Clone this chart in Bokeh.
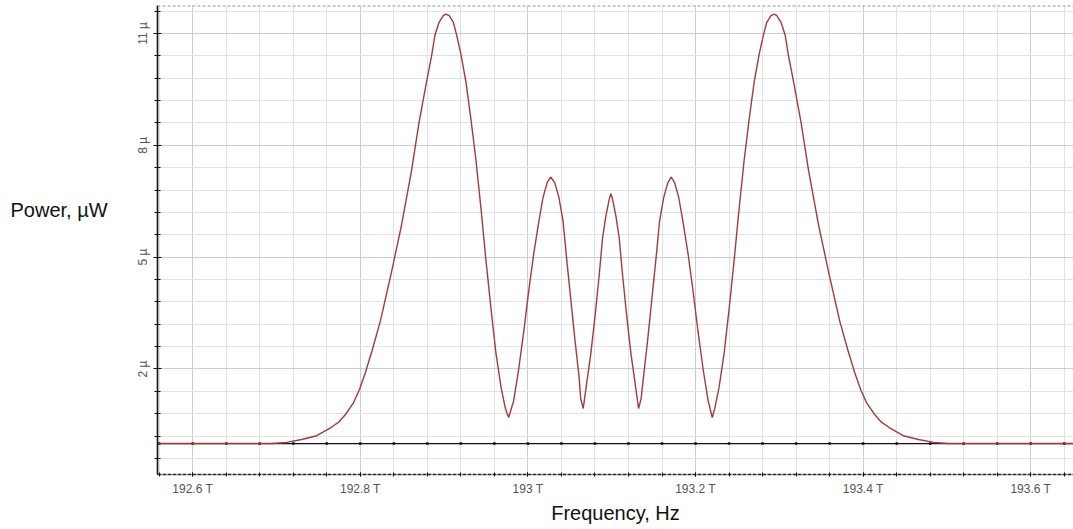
import numpy as np
from bokeh.plotting import figure
from bokeh.layouts import row
from bokeh.models import FixedTicker, Range1d, Span
from bokeh.core.properties import value
from bokeh.embed import file_html
from bokeh.resources import INLINE

# ---- data (frequency in THz, power in µW) ----
freq_thz = [
    192.558, 192.694, 192.712, 192.730, 192.748, 192.765, 192.775, 192.783, 192.792,
    192.799, 192.806, 192.814, 192.824, 192.837, 192.849, 192.861, 192.870, 192.879,
    192.885, 192.889, 192.894, 192.899, 192.902, 192.906, 192.911, 192.915, 192.920,
    192.926, 192.932, 192.938, 192.944, 192.950, 192.956, 192.962, 192.968, 192.973,
    192.977,
    192.983, 192.989, 192.995, 193.001, 193.007, 193.013, 193.018, 193.023, 193.027,
    193.032, 193.037, 193.042, 193.046, 193.051, 193.056, 193.061, 193.063, 193.066,
    193.070, 193.075, 193.080, 193.085, 193.089, 193.093, 193.097, 193.099, 193.101,
    193.105, 193.109, 193.113, 193.118, 193.123, 193.128, 193.132,
    193.135, 193.138, 193.143, 193.148, 193.153, 193.157, 193.162, 193.167, 193.171,
    193.175, 193.180, 193.185, 193.191, 193.197, 193.203, 193.209, 193.215, 193.220,
    193.223, 193.228, 193.234, 193.240, 193.246, 193.252, 193.258, 193.264, 193.270,
    193.276, 193.281, 193.285, 193.290, 193.294, 193.297, 193.302, 193.307, 193.311,
    193.317, 193.326, 193.335, 193.347, 193.359, 193.372, 193.382, 193.390, 193.397,
    193.404, 193.413, 193.421, 193.431, 193.448, 193.466, 193.484, 193.502, 193.651,
]
power_uw = [
    0.00, 0.00, 0.03, 0.11, 0.21, 0.43, 0.59, 0.80, 1.10,
    1.45, 1.90, 2.49, 3.29, 4.58, 5.84, 7.31, 8.60, 9.70,
    10.39, 10.95, 11.30, 11.48, 11.52, 11.48, 11.30, 10.95, 10.45,
    9.70, 8.70, 7.60, 6.30, 4.90, 3.60, 2.40, 1.50, 0.95,
    0.70,
    1.15, 2.00, 3.00, 4.10, 5.10, 5.95, 6.60, 7.00, 7.15,
    7.00, 6.60, 5.95, 5.00, 3.90, 2.80, 1.80, 1.20, 0.94,
    1.60, 2.40, 3.40, 4.50, 5.50, 6.10, 6.55, 6.70, 6.55,
    6.10, 5.50, 4.50, 3.40, 2.40, 1.60, 0.94,
    1.20, 1.80, 2.80, 3.90, 5.00, 5.95, 6.60, 7.00, 7.15,
    7.00, 6.60, 5.95, 5.10, 4.10, 3.00, 2.00, 1.15, 0.70,
    0.95, 1.50, 2.40, 3.60, 4.90, 6.30, 7.60, 8.70, 9.70,
    10.45, 10.95, 11.30, 11.48, 11.52, 11.48, 11.30, 10.95, 10.39,
    9.70, 8.60, 7.31, 5.84, 4.58, 3.29, 2.49, 1.90, 1.45,
    1.10, 0.80, 0.59, 0.43, 0.21, 0.11, 0.03, 0.00, 0.00,
]

x_ticks = [192.6, 192.8, 193.0, 193.2, 193.4, 193.6]
x_tick_labels = ["192.6 T", "192.8 T", "193 T", "193.2 T", "193.4 T", "193.6 T"]
y_ticks = [2, 5, 8, 11]
y_tick_labels = ["2 µ", "5 µ", "8 µ", "11 µ"]
x_title = "Frequency, Hz"
y_title = "Power, µW"

x_start, x_end = 192.558, 193.651
y_start, y_end = -0.83, 11.75

x_minor = [round(v, 2) for v in np.arange(192.56, 193.65, 0.04)]
y_minor = [round(v, 2) for v in np.arange(-0.4, 11.7, 0.6)]

FONT = "Liberation Sans"
H = 529
LEFT_W = 133

# ---- left strip holding the horizontal y-axis title ----
t = figure(width=LEFT_W, height=H, output_backend="svg", toolbar_location=None,
           x_range=Range1d(0, LEFT_W), y_range=Range1d(0, H),
           min_border=0)
t.axis.visible = False
t.grid.visible = False
t.outline_line_color = None
t.text(x=[10], y=[H - 231], text=[y_title], text_font=value(FONT),
       text_font_size="20px", text_color="#111111", text_baseline="middle",
       text_align="left")

# ---- main chart ----
p = figure(width=1073 - LEFT_W, height=H, output_backend="svg", toolbar_location=None,
           x_range=Range1d(x_start, x_end), y_range=Range1d(y_start, y_end),
           min_border_left=155 - LEFT_W, min_border_right=0, min_border_top=5,
           min_border_bottom=55)
p.outline_line_color = None

p.xaxis.ticker = FixedTicker(ticks=x_ticks, minor_ticks=x_minor)
p.yaxis.ticker = FixedTicker(ticks=y_ticks, minor_ticks=y_minor)
p.xaxis.major_label_overrides = dict(zip(x_ticks, x_tick_labels))
p.yaxis.major_label_overrides = dict(zip(y_ticks, y_tick_labels))

for g in (p.xgrid, p.ygrid):
    g.grid_line_color = "#cdcdcd"
    g.grid_line_width = 1
    g.minor_grid_line_color = "#e2e2e2"
    g.minor_grid_line_width = 1

xa = p.xaxis[0]
xa.axis_line_color = "#222222"
xa.axis_line_dash = "4 1"
xa.axis_line_width = 1.3
xa.major_tick_in = 2
xa.major_tick_out = 2
xa.minor_tick_in = 2
xa.minor_tick_out = 2
xa.major_tick_line_color = "#111111"
xa.minor_tick_line_color = "#111111"
xa.major_label_text_font = FONT
xa.major_label_text_font_size = "12px"
xa.major_label_text_color = "#555555"
xa.major_label_standoff = 5
xa.axis_label = x_title
xa.axis_label_text_font = FONT
xa.axis_label_text_font_style = "normal"
xa.axis_label_text_font_size = "20px"
xa.axis_label_text_color = "#111111"
xa.axis_label_standoff = 3

ya = p.yaxis[0]
ya.axis_line_color = "#111111"
ya.axis_line_width = 1.6
ya.major_tick_in = 4
ya.major_tick_out = 4
ya.minor_tick_in = 3
ya.minor_tick_out = 3
ya.major_tick_line_color = "#111111"
ya.minor_tick_line_color = "#111111"
ya.major_label_orientation = "vertical"
ya.major_label_text_font = FONT
ya.major_label_text_font_size = "12px"
ya.major_label_text_color = "#555555"
ya.major_label_standoff = 3

p.add_layout(Span(location=y_end, dimension="width", line_color="#9a9a9a",
                  line_dash="3 2", line_width=2))

p.line([x_start, x_end], [0, 0], line_color="#111111", line_width=1.2)
p.scatter(x_minor, [0] * len(x_minor), marker="square", size=2.5,
          fill_color="#111111", line_color=None)

p.line(freq_thz, power_uw, line_color="#a53a3a", line_width=1.4)

layout = row(t, p, spacing=0)
open("out.html", "w").write(file_html(layout, INLINE))
